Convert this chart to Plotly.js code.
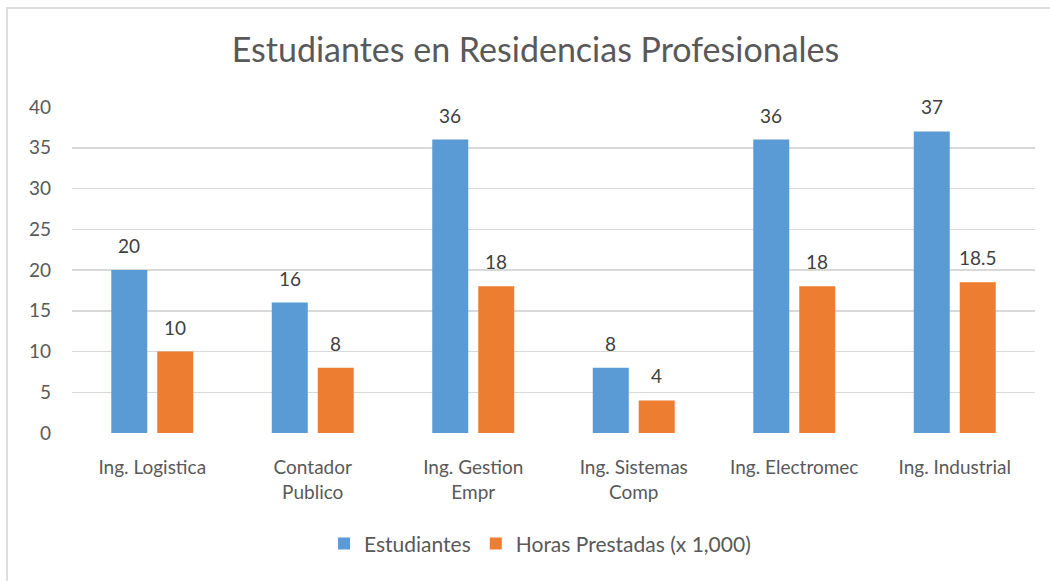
<!DOCTYPE html>
<html>
<head>
<meta charset="utf-8">
<script src="https://cdn.plot.ly/plotly-3.0.1.min.js"></script>
<style>
html,body{margin:0;padding:0;background:#fff;}
#wrap{position:relative;width:1050px;height:581px;overflow:hidden;}
#chart{position:absolute;left:0;top:0;width:1050px;height:581px;}
#frame{position:absolute;left:6px;top:7px;width:1100px;height:600px;border-top:2px solid #dedede;border-left:2px solid #dedede;pointer-events:none;}
</style>
</head>
<body>
<div id="wrap"><div id="chart"></div><div id="frame"></div></div>
<script>
const categories = ["Ing. Logistica", "Contador<br>Publico", "Ing. Gestion<br>Empr", "Ing. Sistemas<br>Comp", "Ing. Electromec", "Ing. Industrial"];
const estudiantes = [20, 16, 36, 8, 36, 37];
const horas = [10, 8, 18, 4, 18, 18.5];
const seriesNames = ["Estudiantes", "Horas Prestadas (x 1,000)"];
const colors = ["#5B9BD5", "#ED7D31"];

const font = "Lato, 'Open Sans', sans-serif";
const traces = [
  {type: "bar", name: seriesNames[0], x: categories, y: estudiantes, marker: {color: colors[0]}, hoverinfo: "none"},
  {type: "bar", name: seriesNames[1], x: categories, y: horas, marker: {color: colors[1]}, hoverinfo: "none"}
];

const annotations = [];
[estudiantes, horas].forEach((vals, si) => {
  vals.forEach((v, i) => {
    annotations.push({
      x: categories[i], y: v, xref: "x", yref: "y",
      text: String(v), showarrow: false,
      xshift: si === 0 ? -23 : 23, yshift: 11, yanchor: "bottom",
      font: {family: font, size: 19, color: "#404040"}
    });
  });
});

const layout = {
  width: 1050, height: 581,
  margin: {l: 72, r: 15, t: 107, b: 148},
  paper_bgcolor: "#ffffff", plot_bgcolor: "#ffffff",
  title: {text: "Estudiantes en Residencias Profesionales", x: 0.51, xanchor: "center", y: 0.914, yanchor: "middle",
          font: {family: font, size: 34, color: "#595959"}},
  barmode: "group", bargap: 0.427, bargroupgap: 0.217,
  xaxis: {type: "category", showgrid: false, zeroline: false, showline: false, ticks: "", ticklabelstandoff: 21,
          tickfont: {family: font, size: 19, color: "#595959"}, fixedrange: true},
  yaxis: {range: [0, 40], dtick: 5, showgrid: true, gridcolor: "#d9d9d9", gridwidth: 1.5,
          zeroline: false, showline: false, ticks: "", ticklabelstandoff: 20,
          tickfont: {family: font, size: 19, color: "#595959"}, fixedrange: true},
  legend: {orientation: "h", x: 0.486, xanchor: "center", y: -0.34, yanchor: "middle",
           font: {family: font, size: 21, color: "#595959"}, itemwidth: 30},
  annotations: annotations,
  showlegend: true
};

Plotly.newPlot("chart", traces, layout, {displayModeBar: false, staticPlot: true});
</script>
</body>
</html>
